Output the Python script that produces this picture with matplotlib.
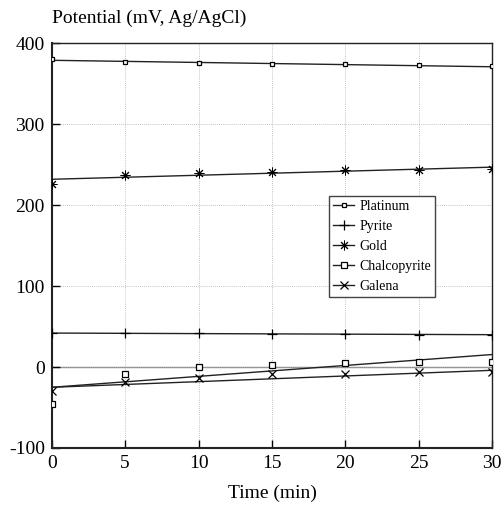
import matplotlib
matplotlib.use("Agg")
import matplotlib.pyplot as plt
import numpy as np

plt.rcParams['font.family'] = ['Liberation Serif', 'DejaVu Serif']
plt.rcParams['axes.unicode_minus'] = False

time = [0, 5, 10, 15, 20, 25, 30]
platinum = [380, 377, 376, 375, 374, 373, 372]
pyrite = [42, 42, 42, 41, 41, 40, 40]
gold = [226, 237, 240, 241, 243, 244, 245]
chalcopyrite = [-46, -8, 0, 3, 4.5, 6, 6.5]
galena = [-30, -19, -14, -9, -8, -6, -6]

# fitted trend lines (start, end)
fit_t = [0, 30]
platinum_fit = [379, 371]
pyrite_fit = [42, 40]
gold_fit = [232, 247]
chalcopyrite_fit = [-25, 15.5]
galena_fit = [-25, -4]

xticks = [0, 5, 10, 15, 20, 25, 30]
yticks = [-100, 0, 100, 200, 300, 400]

fig = plt.figure(figsize=(5.02, 5.15), dpi=100)
ax = fig.add_axes([51.7/502, 1-448/515, (492.3-51.7)/502, (448-43.3)/515])

ax.axhline(0, color='#888888', lw=1.0, zorder=1)

series = [
    ('Platinum', platinum, platinum_fit, dict(marker='s', ms=2.5, mfc='white', mec='black', mew=0.9)),
    ('Pyrite', pyrite, pyrite_fit, dict(marker='+', ms=7, mew=0.9, mec='black')),
    ('Gold', gold, gold_fit, dict(marker=(8, 2, 0), ms=7, mew=0.7, mec='black')),
    ('Chalcopyrite', chalcopyrite, chalcopyrite_fit, dict(marker='s', ms=5, mfc='white', mec='black', mew=0.9)),
    ('Galena', galena, galena_fit, dict(marker='x', ms=6, mew=0.9, mec='black')),
]

handles = []
for name, vals, fit, mk in series:
    ax.plot(fit_t, fit, color='#222222', lw=1.0, zorder=2)
    ax.plot(time, vals, linestyle='none', zorder=3, **mk)
    h, = ax.plot([], [], color='#222222', lw=1.0, label=name, **mk)
    handles.append(h)

ax.set_xlim(0, 30)
ax.set_ylim(-100, 400)
ax.set_xticks(xticks)
ax.set_yticks(yticks)
ax.grid(True, linestyle=(0, (1, 1.5)), color='#b0b0b0', lw=0.6)
ax.tick_params(direction='in', length=6, labelsize=14, width=1, top=False, right=False, pad=5)
for k, s in ax.spines.items():
    s.set_linewidth(1.5 if k in ('left', 'bottom') else 1.0)
    s.set_color('#222222')

fig.text(52/502, 1-18/515, 'Potential (mV, Ag/AgCl)', fontsize=14, ha='left', va='center')
fig.text(272/502, 1-493/515, 'Time (min)', fontsize=14, ha='center', va='center')

leg = ax.legend(handles=handles, loc='upper left', bbox_to_anchor=((329-51.7)/440.6, (448-196)/404.7),
                fontsize=10, frameon=True, fancybox=False, edgecolor='#444444', framealpha=1,
                handlelength=1.5, handletextpad=0.4, borderpad=0.3, labelspacing=0.5, borderaxespad=0)
leg.get_frame().set_linewidth(1.0)

fig.savefig('out.png', dpi=100)
